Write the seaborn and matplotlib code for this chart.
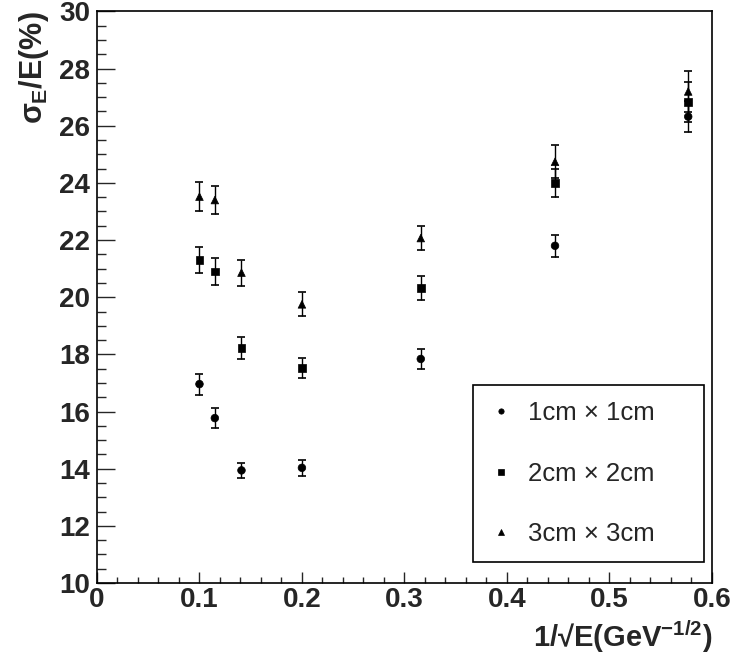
import pandas as pd
import matplotlib
matplotlib.use("Agg")
import matplotlib.pyplot as plt
import seaborn as sns
from matplotlib.ticker import MultipleLocator

# data
inv_sqrt_e = [0.1, 0.115, 0.141, 0.2, 0.316, 0.447, 0.577]
res_1cm = [16.96, 15.77, 13.94, 14.03, 17.84, 21.8, 26.32]
err_1cm = [0.37, 0.35, 0.27, 0.28, 0.34, 0.38, 0.53]
res_2cm = [21.31, 20.9, 18.22, 17.52, 20.32, 23.99, 26.84]
err_2cm = [0.45, 0.48, 0.38, 0.36, 0.41, 0.5, 0.7]
res_3cm = [23.52, 23.4, 20.86, 19.75, 22.07, 24.74, 27.2]
err_3cm = [0.52, 0.5, 0.45, 0.42, 0.43, 0.58, 0.72]
labels = ["1cm \u00d7 1cm", "2cm \u00d7 2cm", "3cm \u00d7 3cm"]

df = pd.concat([
    pd.DataFrame({"x": inv_sqrt_e, "y": res_1cm, "err": err_1cm, "size": labels[0]}),
    pd.DataFrame({"x": inv_sqrt_e, "y": res_2cm, "err": err_2cm, "size": labels[1]}),
    pd.DataFrame({"x": inv_sqrt_e, "y": res_3cm, "err": err_3cm, "size": labels[2]}),
])

sns.set_style("ticks")
plt.rcParams["font.family"] = ["Liberation Sans", "DejaVu Sans"]
plt.rcParams["mathtext.fontset"] = "custom"
plt.rcParams["mathtext.rm"] = "Liberation Sans:bold"
plt.rcParams["mathtext.bf"] = "Liberation Sans:bold"
plt.rcParams["mathtext.it"] = "Liberation Sans:bold"

fig = plt.figure(figsize=(7.31, 6.63), dpi=100)
ax = fig.add_axes([0.1327, 0.1207, 0.841, 0.862])

# error bars first
for lab in labels:
    d = df[df["size"] == lab]
    ax.errorbar(d["x"], d["y"], yerr=d["err"], fmt="none", ecolor="black",
                elinewidth=1.0, capsize=3, capthick=1.2, zorder=2)

sns.scatterplot(
    data=df, x="x", y="y", style="size", style_order=labels,
    markers=["o", "s", "^"], color="black", s=30, edgecolor="black",
    linewidth=0.5, ax=ax, zorder=3,
)

ax.set_xlim(0, 0.6)
ax.set_ylim(10, 30)
ax.xaxis.set_minor_locator(MultipleLocator(0.02))
ax.yaxis.set_minor_locator(MultipleLocator(0.5))
ax.set_xticks([0, 0.1, 0.2, 0.3, 0.4, 0.5, 0.6])
ax.set_xticklabels(["0", "0.1", "0.2", "0.3", "0.4", "0.5", "0.6"],
                   fontweight="bold", fontsize=20)
ax.set_yticks(range(10, 31, 2))
ax.set_yticklabels([str(v) for v in range(10, 31, 2)],
                   fontweight="bold", fontsize=20)
ax.tick_params(axis="x", which="major", direction="in", length=8, width=1.0, pad=3)
ax.tick_params(axis="x", which="minor", direction="in", length=4.5, width=1.0)
ax.tick_params(axis="y", which="major", direction="in", length=13, width=1.0, pad=5)
ax.tick_params(axis="y", which="minor", direction="in", length=6.5, width=1.0)
ax.tick_params(top=False, right=False, which="both")
for s in ax.spines.values():
    s.set_linewidth(1.2)
    s.set_color("black")

ax.set_xlabel("1/\u221aE(GeV$^{-1/2}$)", fontsize=21, fontweight="bold",
              loc="right", labelpad=4)
ax.set_ylabel("$\\sigma_E$/E(%)", fontsize=22, fontweight="bold",
              loc="top", labelpad=6)

leg = ax.legend(loc="lower left", bbox_to_anchor=(0.611, 0.0367, 0.377, 0.313),
                mode="expand", fontsize=18.5, frameon=True, fancybox=False,
                edgecolor="black", borderpad=0.62, labelspacing=1.42,
                handlelength=1.0, handletextpad=0.55, markerscale=0.7,
                borderaxespad=0)
leg.get_frame().set_linewidth(1.2)
leg.get_frame().set_alpha(1)

fig.savefig("out.png", dpi=100)
